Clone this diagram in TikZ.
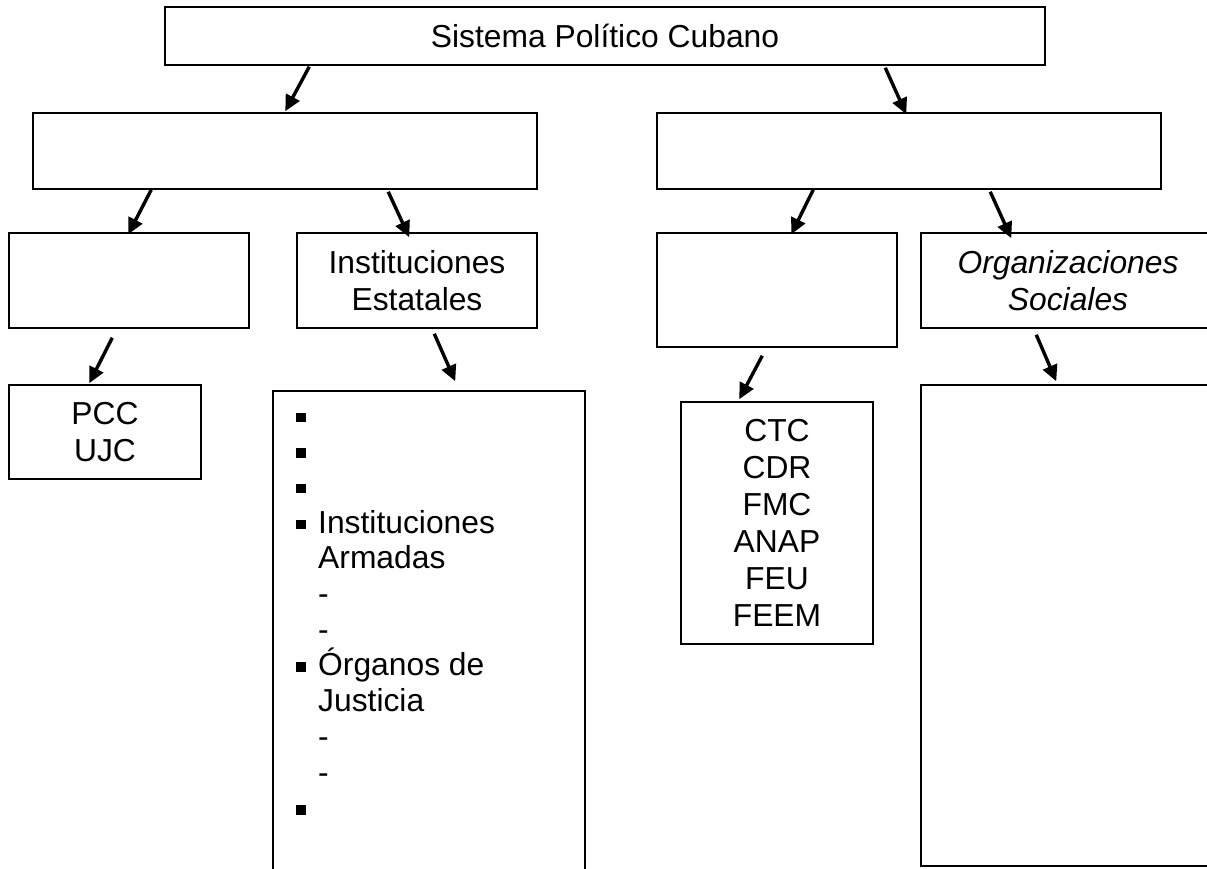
\documentclass[tikz,border=0pt]{standalone}
\usepackage{fontspec}
\setmainfont{Liberation Sans}
\usetikzlibrary{arrows.meta}
\newcommand{\sqbul}{\makebox[22pt][l]{\rule[4pt]{9.5pt}{9.5pt}}}
\begin{document}
\begin{tikzpicture}[x=1pt,y=-1pt,
  every node/.style={font=\fontsize{31.8pt}{37pt}\selectfont},
  box/.style={draw, line width=1.5pt, rectangle, inner sep=0pt, align=center},
  row/.style={anchor=base west, inner sep=0pt},
  arr/.style={line width=3.4pt, -{Triangle[length=16pt,width=15pt]}}]
\useasboundingbox (0,0) rectangle (1207,869);
\fill[white] (0,0) rectangle (1207,869);
\clip (0,0) rectangle (1207,869);

% level 1
\node[box, minimum width=880pt, minimum height=58pt] (top) at (605,36) {Sistema Político Cubano};
% level 2
\node[box, minimum width=504pt, minimum height=76pt] (l2l) at (285,151) {};
\node[box, minimum width=504pt, minimum height=76pt] (l2r) at (909,151) {};
% level 3
\node[box, minimum width=240pt, minimum height=95pt] (A) at (129,280.5) {};
\node[box, minimum width=240pt, minimum height=95pt] (B) at (417,280.5) {Instituciones\\Estatales};
\node[box, minimum width=240pt, minimum height=114pt] (C) at (777,290) {};
\node[box, minimum width=294pt, minimum height=95pt] (D) at (1068,280.5) {\itshape Organizaciones\\\itshape Sociales};
% level 4
\node[box, minimum width=192pt, minimum height=94pt] (pcc) at (105,432) {PCC\\UJC};
\node[box, minimum width=312pt, minimum height=509pt] (list) at (429,645.5) {};
\node[box, minimum width=192pt, minimum height=242pt] (ctc) at (777,523) {CTC\\CDR\\FMC\\ANAP\\FEU\\FEEM};
\node[box, minimum width=294pt, minimum height=481pt] (d2) at (1068,625.5) {};

% list rows
\node[row] (li1)  at (296,426)   {\sqbul};
\node[row] (li2)  at (296,461.7) {\sqbul};
\node[row] (li3)  at (296,497.4) {\sqbul};
\node[row] (li4)  at (296,533.1) {\sqbul Instituciones};
\node[row] (li5)  at (318,568.8) {Armadas};
\node[row] (li6)  at (318,604.5) {-};
\node[row] (li7)  at (318,640.2) {-};
\node[row] (li8)  at (296,675.9) {\sqbul Órganos de};
\node[row] (li9)  at (318,711.6) {Justicia};
\node[row] (li10) at (318,747.3) {-};
\node[row] (li11) at (318,783)   {-};
\node[row] (li12) at (296,818.7) {\sqbul};

% connectors
\draw[arr] ([xshift=145pt,yshift=-1pt]top.south west) -- ([xshift=253pt,yshift=1pt]l2l.north west);
\draw[arr] ([xshift=721pt,yshift=-2pt]top.south west) -- ([xshift=250pt,yshift=-2pt]l2r.north west);
\draw[arr] ([xshift=119pt]l2l.south west) -- ([xshift=120pt,yshift=-2pt]A.north west);
\draw[arr] ([xshift=356pt,yshift=-2pt]l2l.south west) -- ([xshift=113pt,yshift=-5pt]B.north west);
\draw[arr] ([xshift=157pt]l2r.south west) -- ([xshift=135pt,yshift=-2pt]C.north west);
\draw[arr] ([xshift=334pt,yshift=-2pt]l2r.south west) -- ([xshift=91pt,yshift=-6pt]D.north west);
\draw[arr] ([xshift=104pt,yshift=-9pt]A.south west) -- ([xshift=81pt,yshift=1pt]pcc.north west);
\draw[arr] ([xshift=138pt,yshift=-5pt]B.south west) -- ([xshift=183pt,yshift=9pt]list.north west);
\draw[arr] ([xshift=106pt,yshift=-8pt]C.south west) -- ([xshift=59pt,yshift=2pt]ctc.north west);
\draw[arr] ([xshift=116pt,yshift=-6pt]D.south west) -- ([xshift=136pt,yshift=3pt]d2.north west);
\end{tikzpicture}
\end{document}
